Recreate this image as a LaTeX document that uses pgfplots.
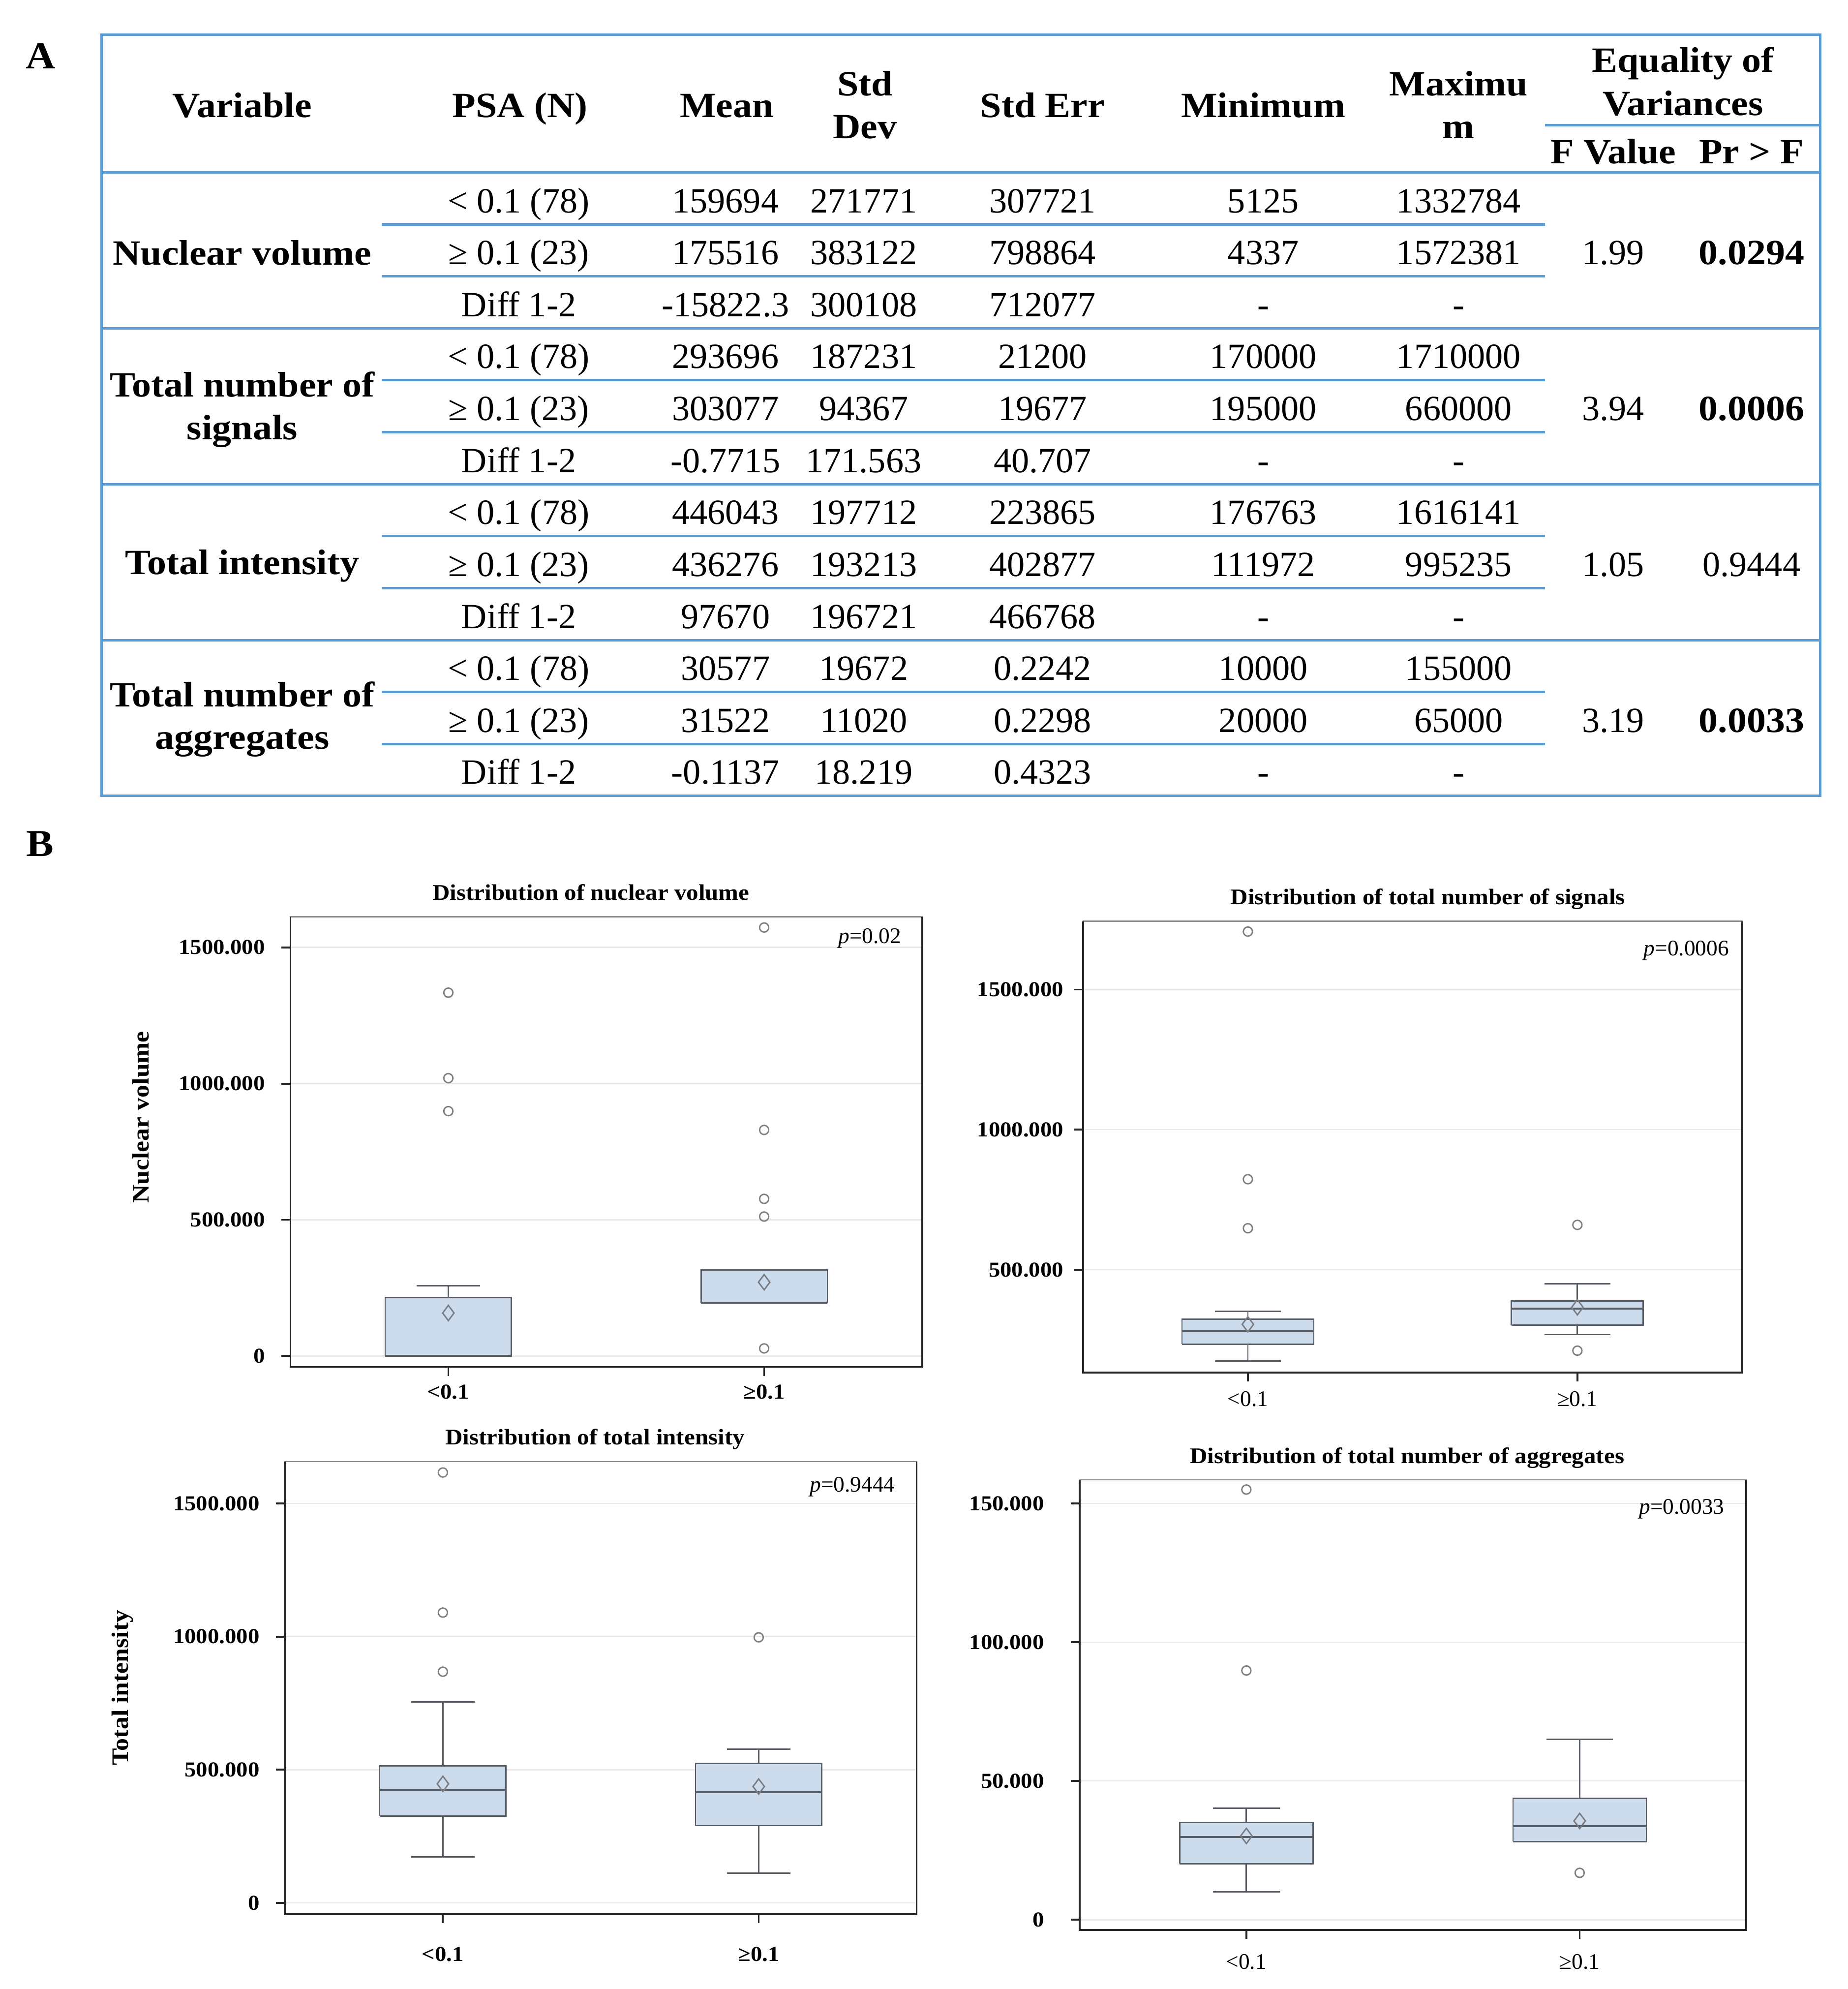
\documentclass[border=0pt]{standalone}
\usepackage{fontspec}
\setmainfont{Liberation Serif}[BoldFeatures={FakeStretch=1.08}]
\usepackage{pgfplots}
\pgfplotsset{compat=1.18}

\definecolor{tabblue}{RGB}{91,155,213}
\definecolor{boxfill}{RGB}{204,220,237}
\definecolor{boxdraw}{RGB}{88,92,100}

\newcommand{\tabfont}{\fontsize{14}{16}\selectfont}
\newcommand{\tickfont}{\fontsize{8.4}{10}\selectfont\bfseries}
\newcommand{\xtickreg}{\fontsize{8.8}{10}\selectfont}
\newcommand{\titlefont}{\fontsize{8.8}{10}\selectfont\bfseries}
\newcommand{\labfont}{\fontsize{9.3}{11}\selectfont\bfseries}
\newcommand{\pfont}{\fontsize{8.8}{10}\selectfont}

\pgfplotsset{
  panel/.style={
    scale only axis, anchor=south west,
    xmin=0.5, xmax=2.5, xtick={1,2},
    xticklabels={<0.1,≥0.1},
    tick align=outside, tick pos=left,
    major tick length=3.5pt,
    ymajorgrids, grid style={draw=black!9, line width=0.5pt},
    axis line style={draw=black!45, line width=0.5pt},
    major tick style={draw=black!85, line width=0.75pt},
    tick label style={font=\tickfont},
    title style={font=\titlefont, anchor=base, yshift=0.6pt},
    clip=false,
  },
  whisk/.style={draw=boxdraw, line width=0.55pt, mark=none},
  boxst/.style={draw=boxdraw, fill=boxfill, line width=0.55pt, mark=none},
  medst/.style={draw=boxdraw, line width=0.8pt, mark=none},
  outl/.style={only marks, mark=o, mark size=1.8pt, draw=black!50,
    mark options={line width=0.55pt, fill=none}},
  avg/.style={only marks, mark=diamond, mark size=3pt, draw=boxdraw!80,
    mark options={line width=0.55pt, fill=none}},
}

% darker left, bottom and right frame lines (top stays light)
\newcommand{\darkframe}{%
  \draw[black!85, line width=0.75pt] (rel axis cs:0,1) -- (rel axis cs:0,0)
    -- (rel axis cs:1,0) -- (rel axis cs:1,1);
}
% box at position 1: lower whisker, lower quartile, median, upper quartile, upper whisker
\newcommand{\boxone}[5]{%
  \addplot[whisk] coordinates {(1,#1) (1,#2)};
  \addplot[whisk] coordinates {(1,#4) (1,#5)};
  \addplot[boxst] coordinates {(0.8,#2) (1.2,#2) (1.2,#4) (0.8,#4) (0.8,#2)};
  \addplot[medst] coordinates {(0.8,#3) (1.2,#3)};
  \addplot[whisk] coordinates {(0.9,#1) (1.1,#1)};
  \addplot[whisk] coordinates {(0.9,#5) (1.1,#5)};
}
% box at position 2
\newcommand{\boxtwo}[5]{%
  \addplot[whisk] coordinates {(2,#1) (2,#2)};
  \addplot[whisk] coordinates {(2,#4) (2,#5)};
  \addplot[boxst] coordinates {(1.8,#2) (2.2,#2) (2.2,#4) (1.8,#4) (1.8,#2)};
  \addplot[medst] coordinates {(1.8,#3) (2.2,#3)};
  \addplot[whisk] coordinates {(1.9,#1) (2.1,#1)};
  \addplot[whisk] coordinates {(1.9,#5) (2.1,#5)};
}

\begin{document}
\begin{tikzpicture}
\path[use as bounding box] (0,0) rectangle (728.5pt,-784pt);

% ---------------- table (A) ----------------
\begin{scope}[x=0.5pt, y=-0.5pt, font=\tabfont]
  \node[anchor=base, font=\fontsize{15}{17}\selectfont\bfseries] at (32,54) {A};
  \node[anchor=base, font=\fontsize{15}{17}\selectfont\bfseries] at (31.5,675) {B};

  \draw[tabblue, line width=1pt] (80,27.5) rectangle (1435,627.4);
  \draw[tabblue, line width=1pt] (1218,98.7) -- (1435,98.7);
  \foreach \yy in {135.9,258.8,381.7,504.6}
    \draw[tabblue, line width=1pt] (80,\yy) -- (1435,\yy);
  \foreach \g in {0,...,3} {
    \foreach \r in {1,2} {
      \draw[tabblue, line width=1pt] (301,{135.9+(3*\g+\r)*40.96}) -- (1218,{135.9+(3*\g+\r)*40.96});
    }
  }

  % header
  \begin{scope}[every node/.style={anchor=base, font=\tabfont\bfseries}]
    \node at (191,92.6) {Variable};
    \node at (410,92.6) {PSA (N)};
    \node at (573,92.6) {Mean};
    \node at (682,75.4) {Std};
    \node at (682,109) {Dev};
    \node at (822,92.6) {Std Err};
    \node at (996,92.6) {Minimum};
    \node at (1150,75.4) {Maximu};
    \node at (1150,109) {m};
    \node at (1327,57) {Equality of};
    \node at (1327,90.8) {Variances};
    \node at (1272,128.9) {F Value};
    \node at (1381,128.9) {Pr > F};
  \end{scope}

  % variable names
  \begin{scope}[every node/.style={anchor=base, font=\tabfont\bfseries}]
    \node at (191,208.7) {Nuclear volume};
    \node at (191,312.6) {Total number of};
    \node at (191,346.7) {signals};
    \node at (191,452.9) {Total intensity};
    \node at (191,557) {Total number of};
    \node at (191,590.4) {aggregates};
  \end{scope}

  % body rows
  \foreach \k/\va/\vb/\vc/\vd/\ve/\vf in {
    0/{< 0.1 (78)}/159694/271771/307721/5125/1332784,
    1/{≥ 0.1 (23)}/175516/383122/798864/4337/1572381,
    2/{Diff 1-2}/-15822.3/300108/712077/-/-,
    3/{< 0.1 (78)}/293696/187231/21200/170000/1710000,
    4/{≥ 0.1 (23)}/303077/94367/19677/195000/660000,
    5/{Diff 1-2}/-0.7715/171.563/40.707/-/-,
    6/{< 0.1 (78)}/446043/197712/223865/176763/1616141,
    7/{≥ 0.1 (23)}/436276/193213/402877/111972/995235,
    8/{Diff 1-2}/97670/196721/466768/-/-,
    9/{< 0.1 (78)}/30577/19672/0.2242/10000/155000,
    10/{≥ 0.1 (23)}/31522/11020/0.2298/20000/65000,
    11/{Diff 1-2}/-0.1137/18.219/0.4323/-/-} {
    \node[anchor=base] at (409,{167.6+\k*40.96}) {\va};
    \node[anchor=base] at (572,{167.6+\k*40.96}) {\vb};
    \node[anchor=base] at (681,{167.6+\k*40.96}) {\vc};
    \node[anchor=base] at (822,{167.6+\k*40.96}) {\vd};
    \node[anchor=base] at (996,{167.6+\k*40.96}) {\ve};
    \node[anchor=base] at (1150,{167.6+\k*40.96}) {\vf};
  }

  \node[anchor=base] at (1272,208.6) {1.99};
  \node[anchor=base, font=\tabfont\bfseries] at (1381,208.6) {0.0294};
  \node[anchor=base] at (1272,331.4) {3.94};
  \node[anchor=base, font=\tabfont\bfseries] at (1381,331.4) {0.0006};
  \node[anchor=base] at (1272,454.3) {1.05};
  \node[anchor=base] at (1381,454.3) {0.9444};
  \node[anchor=base] at (1272,577.2) {3.19};
  \node[anchor=base, font=\tabfont\bfseries] at (1381,577.2) {0.0033};
\end{scope}

% ---------------- box plots (B) ----------------
\begin{axis}[panel, at={(114.5pt,-538.8pt)}, width=249pt, height=177.4pt,
  ymin=-40, ymax=1612, ytick={0,500,1000,1500},
  yticklabels={0,500.000,1000.000,1500.000},
  yticklabel style={xshift=-3pt},
  title={Distribution of nuclear volume}, title style={xshift=-6pt},
  every axis y label/.style={at={(rel axis cs:0,0.555)}, xshift=-59pt, rotate=90, anchor=center, font=\labfont},
  ylabel={Nuclear volume}]
\darkframe
\boxone{0}{0}{0}{215}{258}
\boxtwo{196}{196}{196}{316}{316}
\addplot[outl] coordinates {(1,1334) (1,1020) (1,899) (2,1573) (2,830) (2,577) (2,512) (2,28)};
\addplot[avg] coordinates {(1,158) (2,271)};
\node[anchor=east, inner sep=0pt, font=\pfont, xshift=-8pt, yshift=-8.5pt] at (rel axis cs:1,1) {\textit{p}=0.02};
\end{axis}

\begin{axis}[panel, at={(427pt,-541pt)}, width=259.8pt, height=177.9pt,
  ymin=133, ymax=1744, ytick={500,1000,1500},
  yticklabels={500.000,1000.000,1500.000},
  yticklabel style={xshift=-0.7pt},
  xticklabel style={font=\xtickreg, yshift=-0.5pt},
  title={Distribution of total number of signals}, title style={xshift=6pt}]
\darkframe
\boxone{174}{234}{281}{324}{352}
\boxtwo{268}{302}{361}{388}{450}
\addplot[outl] coordinates {(1,1707) (1,823) (1,648) (2,660) (2,211)};
\addplot[avg] coordinates {(1,305) (2,366)};
\node[anchor=east, inner sep=0pt, font=\pfont, xshift=-5pt, yshift=-11.5pt] at (rel axis cs:1,1) {\textit{p}=0.0006};
\end{axis}

\begin{axis}[panel, at={(112.35pt,-754.45pt)}, width=249pt, height=178.35pt,
  ymin=-42, ymax=1657, ytick={0,500,1000,1500},
  yticklabels={0,500.000,1000.000,1500.000},
  yticklabel style={xshift=-3pt},
  xticklabel style={yshift=-6pt},
  title={Distribution of total intensity}, title style={xshift=-2.3pt},
  every axis y label/.style={at={(rel axis cs:0,0.5)}, xshift=-64pt, rotate=90, anchor=center, font=\labfont},
  ylabel={Total intensity}]
\darkframe
\boxone{173}{326}{425}{515}{755}
\boxtwo{111}{290}{415}{523}{577}
\addplot[outl] coordinates {(1,1616) (1,1090) (1,868) (2,997)};
\addplot[avg] coordinates {(1,447) (2,437)};
\node[anchor=east, inner sep=0pt, font=\pfont, xshift=-8.3pt, yshift=-10pt] at (rel axis cs:1,1) {\textit{p}=0.9444};
\end{axis}

\begin{axis}[panel, at={(425.65pt,-760.8pt)}, width=262.8pt, height=177.5pt,
  ymin=-3.75, ymax=158.5, ytick={0,50,100,150},
  yticklabels={0,50.000,100.000,150.000},
  yticklabel style={xshift=-7pt},
  xticklabel style={font=\xtickreg, yshift=-2.5pt},
  title={Distribution of total number of aggregates}, title style={xshift=-2.3pt}]
\darkframe
\boxone{10}{20.2}{29.8}{35.1}{40.2}
\boxtwo{28.2}{28.2}{33.7}{43.7}{65}
\addplot[outl] coordinates {(1,155) (1,89.8) (2,16.9)};
\addplot[avg] coordinates {(1,30.2) (2,35.6)};
\node[anchor=east, inner sep=0pt, font=\pfont, xshift=-8.5pt, yshift=-11.5pt] at (rel axis cs:1,1) {\textit{p}=0.0033};
\end{axis}
\end{tikzpicture}
\end{document}
